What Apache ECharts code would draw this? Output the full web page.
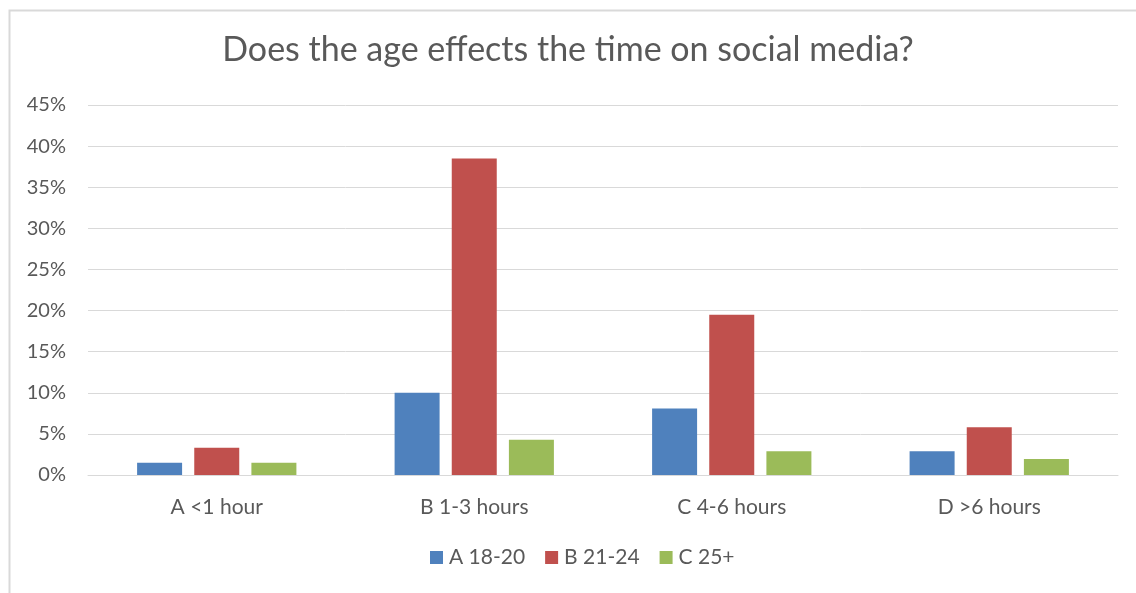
<!DOCTYPE html>
<html>
<head>
<meta charset="utf-8">
<script src="https://cdn.jsdelivr.net/npm/echarts@6/dist/echarts.min.js"></script>
<style>
  html, body { margin: 0; padding: 0; background: #fff; }
  #chart { width: 1136px; height: 593px; }
</style>
</head>
<body>
<div id="chart"></div>
<script>
// Share of respondents by daily social-media time, split by age group
const categories = ['A <1 hour', 'B 1-3 hours', 'C 4-6 hours', 'D >6 hours'];
const ageGroups = ['A 18-20', 'B 21-24', 'C 25+'];
const age18to20 = [1.5, 10.0, 8.1, 2.9];
const age21to24 = [3.3, 38.5, 19.5, 5.8];
const age25plus = [1.5, 4.3, 2.9, 1.95];
const yTicks = [0, 5, 10, 15, 20, 25, 30, 35, 40, 45];
const colors = ['#4F81BD', '#C0504D', '#9BBB59'];

const FONT = 'Lato, "Open Sans", sans-serif';
const TEXT = '#595959';
const GRID = '#d9d9d9';

const chart = echarts.init(document.getElementById('chart'));
const seriesData = [age18to20, age21to24, age25plus];

chart.setOption({
  animation: false,
  color: colors,
  graphic: [{
    type: 'rect',
    left: 7, top: 8,
    shape: { width: 1300, height: 800 },
    style: { fill: 'none', stroke: GRID, lineWidth: 2 },
    silent: true
  }],
  title: {
    text: 'Does the age effects the time on social media?',
    left: 'center',
    top: 28,
    textStyle: { fontFamily: FONT, fontSize: 34, fontWeight: 'normal', color: TEXT }
  },
  legend: {
    data: ageGroups,
    bottom: 20,
    left: 425,
    icon: 'rect',
    itemWidth: 13,
    itemHeight: 13,
    itemGap: 20,
    textStyle: { fontFamily: FONT, fontSize: 21, color: TEXT, padding: [0, 0, 0, 1] }
  },
  grid: { left: 88, right: 18, top: 105, bottom: 118, containLabel: false },
  xAxis: {
    type: 'category',
    data: categories,
    axisLine: { show: true, lineStyle: { color: GRID, width: 1 } },
    axisTick: { show: false },
    axisLabel: { fontFamily: FONT, fontSize: 21, color: TEXT, margin: 22 }
  },
  yAxis: {
    type: 'value',
    min: yTicks[0],
    max: yTicks[yTicks.length - 1],
    interval: 5,
    axisLine: { show: false },
    axisTick: { show: false },
    splitLine: { lineStyle: { color: GRID, width: 1 } },
    axisLabel: { fontFamily: FONT, fontSize: 20, color: TEXT, margin: 22,
      formatter: v => v + '%' }
  },
  series: ageGroups.map((name, i) => ({
    name,
    type: 'bar',
    data: seriesData[i],
    barWidth: 45,
    barGap: '27%',
    itemStyle: { color: colors[i] }
  }))
});
</script>
</body>
</html>
